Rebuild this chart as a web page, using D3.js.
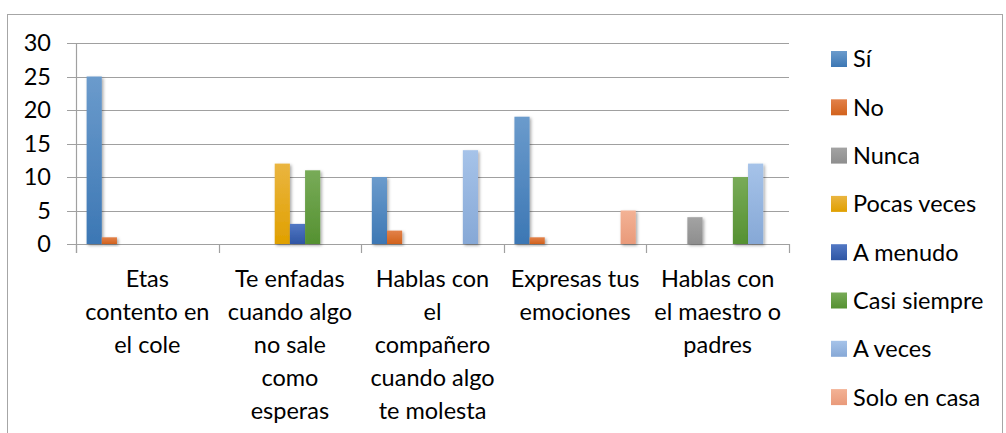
<!DOCTYPE html>
<html>
<head>
<meta charset="utf-8">
<script src="https://cdn.jsdelivr.net/npm/d3@7"></script>
<style>
  body { margin: 0; background: #fff; }
  text { font-family: Lato, "Open Sans", sans-serif; fill: #000; }
</style>
</head>
<body>
<script>
// chart data
const categories = [
    ["Etas", "contento en", "el cole"],
    ["Te enfadas", "cuando algo", "no sale", "como", "esperas"],
    ["Hablas con", "el", "compañero", "cuando algo", "te molesta"],
    ["Expresas tus", "emociones"],
    ["Hablas con", "el maestro o", "padres"]
];
const seriesNames = ["Sí", "No", "Nunca", "Pocas veces", "A menudo", "Casi siempre", "A veces", "Solo en casa"];
// one row per series, one value per category
const seriesValues = [
    [25, 0, 10, 19, 0],   // Sí
    [1, 0, 2, 1, 0],      // No
    [0, 0, 0, 0, 4],      // Nunca
    [0, 12, 0, 0, 0],     // Pocas veces
    [0, 3, 0, 0, 0],      // A menudo
    [0, 11, 0, 0, 10],    // Casi siempre
    [0, 0, 14, 0, 12],    // A veces
    [0, 0, 0, 5, 0]       // Solo en casa
];
const yTicks = [0, 5, 10, 15, 20, 25, 30];

// top / bottom gradient stops for each series
const colours = [
    ["#6b9bcc", "#3c77b4"],
    ["#e2814a", "#d2621c"],
    ["#a3a3a3", "#8e8e8e"],
    ["#eab540", "#e0a000"],
    ["#5278c4", "#2f56a4"],
    ["#78ab58", "#559131"],
    ["#a6c3e9", "#86a8d6"],
    ["#f3b295", "#e99a7a"]
];

const W = 1006, H = 433;
const plot = {left: 76, right: 789, top: 43, bottom: 244};
const fontSize = 23.5;

const svg = d3.select("body").append("svg")
    .attr("width", W)
    .attr("height", H);

const defs = svg.append("defs");
colours.forEach((c, i) => {
    const g = defs.append("linearGradient")
        .attr("id", "grad" + i)
        .attr("x1", 0).attr("y1", 0).attr("x2", 0).attr("y2", 1);
    g.append("stop").attr("offset", "0%").attr("stop-color", c[0]);
    g.append("stop").attr("offset", "100%").attr("stop-color", c[1]);
});
defs.append("filter")
    .attr("id", "shadow")
    .attr("x", "-50%").attr("y", "-10%").attr("width", "200%").attr("height", "130%")
    .append("feDropShadow")
    .attr("dx", 1.5).attr("dy", 1.5).attr("stdDeviation", 1.5)
    .attr("flood-color", "#000").attr("flood-opacity", 0.35);

// outer chart border
svg.append("rect")
    .attr("x", 7.5).attr("y", 14.5)
    .attr("width", 995).attr("height", 430)
    .attr("fill", "none")
    .attr("stroke", "#a6a6a6");

const x = d3.scaleBand()
    .domain(d3.range(categories.length))
    .range([plot.left, plot.right]);

const xInner = d3.scaleBand()
    .domain(d3.range(seriesNames.length))
    .range([0, x.bandwidth()])
    .paddingOuter(0.7);

const y = d3.scaleLinear()
    .domain([0, 30])
    .range([plot.bottom, plot.top]);

// gridlines
svg.append("g")
    .selectAll("line")
    .data(yTicks)
    .join("line")
    .attr("x1", plot.left - 9)
    .attr("x2", plot.right)
    .attr("y1", d => Math.round(y(d)) + 0.5)
    .attr("y2", d => Math.round(y(d)) + 0.5)
    .attr("stroke", "#a0a0a0")
    .attr("stroke-width", 1.2);

// y axis line
svg.append("line")
    .attr("x1", plot.left + 0.5).attr("x2", plot.left + 0.5)
    .attr("y1", plot.top).attr("y2", plot.bottom + 9)
    .attr("stroke", "#a0a0a0").attr("stroke-width", 1.2);

// category tick marks
svg.append("g")
    .selectAll("line")
    .data(d3.range(categories.length + 1))
    .join("line")
    .attr("x1", d => Math.round(plot.left + d * x.step()) + 0.5)
    .attr("x2", d => Math.round(plot.left + d * x.step()) + 0.5)
    .attr("y1", plot.bottom)
    .attr("y2", plot.bottom + 9)
    .attr("stroke", "#a0a0a0").attr("stroke-width", 1.2);

// y tick labels
svg.append("g")
    .selectAll("text")
    .data(yTicks)
    .join("text")
    .attr("x", 51)
    .attr("y", d => y(d))
    .attr("dy", "0.36em")
    .attr("text-anchor", "end")
    .attr("font-size", fontSize)
    .text(d => d);

// bars
seriesValues.forEach((vals, s) => {
    svg.append("g")
        .attr("class", "series")
        .attr("filter", "url(#shadow)")
        .selectAll("rect")
        .data(vals.map((v, c) => ({v: v, c: c})).filter(d => d.v > 0))
        .join("rect")
        .attr("x", d => x(d.c) + xInner(s))
        .attr("y", d => y(d.v))
        .attr("width", xInner.bandwidth())
        .attr("height", d => y(0) - y(d.v))
        .attr("fill", "url(#grad" + s + ")");
});

// category labels
const labels = svg.append("g")
    .selectAll("text")
    .data(categories)
    .join("text")
    .attr("text-anchor", "middle")
    .attr("font-size", fontSize);
labels.selectAll("tspan")
    .data((d, i) => d.map(line => ({line: line, i: i})))
    .join("tspan")
    .attr("x", d => x(d.i) + x.bandwidth() / 2)
    .attr("y", (d, j) => 287 + j * 33)
    .text(d => d.line);

// legend
const legend = svg.append("g")
    .selectAll("g")
    .data(seriesNames)
    .join("g")
    .attr("transform", (d, i) => `translate(831, ${59 + i * 48.3})`);
legend.append("rect")
    .attr("x", 0).attr("y", -8)
    .attr("width", 16).attr("height", 16)
    .attr("fill", (d, i) => "url(#grad" + i + ")");
legend.append("text")
    .attr("x", 22)
    .attr("dy", "0.36em")
    .attr("font-size", fontSize)
    .text(d => d);
</script>
</body>
</html>
